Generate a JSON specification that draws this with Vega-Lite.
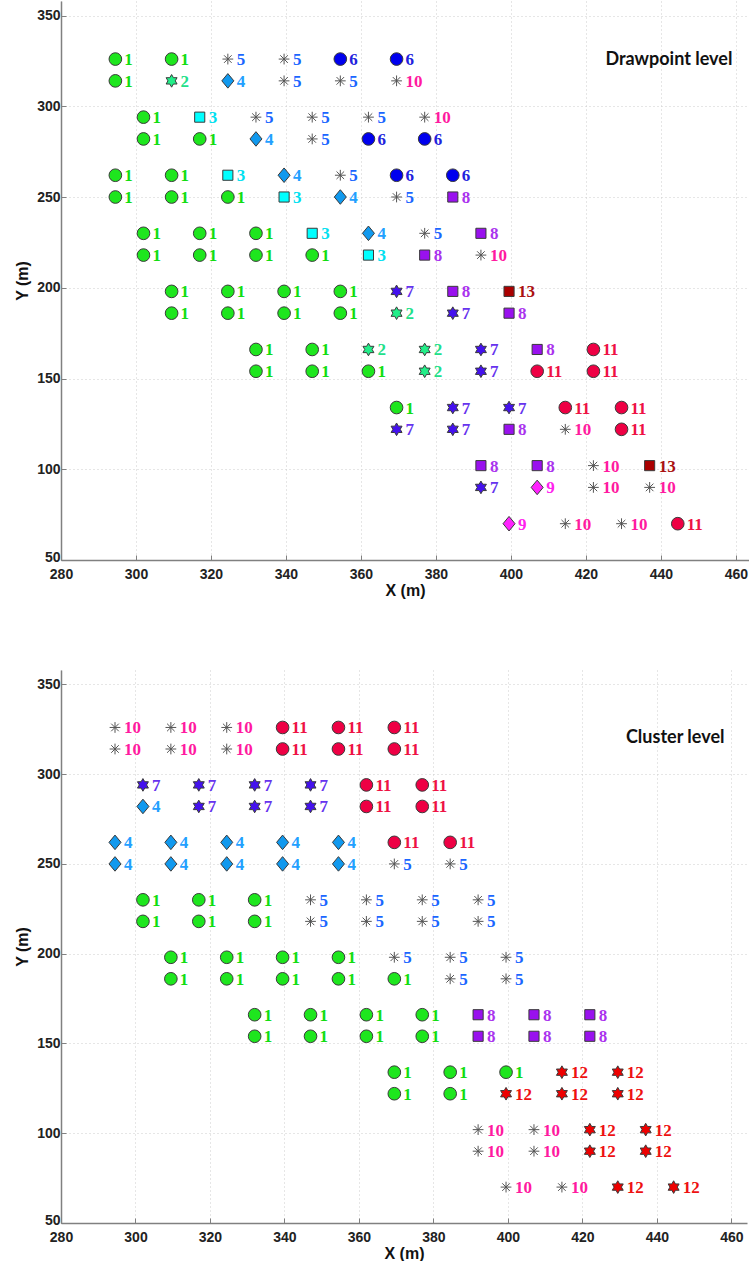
{
  "$schema": "https://vega.github.io/schema/vega-lite/v6.json",
  "padding": {"left": 14, "top": 1, "right": 0, "bottom": 0},
  "background": "white",
  "spacing": 72,
  "datasets": {
    "top": [
      {"x": 294.5, "y": 326, "c": 1}, {"x": 309.5, "y": 326, "c": 1}, {"x": 324.5, "y": 326, "c": 5}, {"x": 339.5, "y": 326, "c": 5}, {"x": 354.5, "y": 326, "c": 6}, {"x": 369.5, "y": 326, "c": 6},
      {"x": 294.5, "y": 314, "c": 1}, {"x": 309.5, "y": 314, "c": 2}, {"x": 324.5, "y": 314, "c": 4}, {"x": 339.5, "y": 314, "c": 5}, {"x": 354.5, "y": 314, "c": 5}, {"x": 369.5, "y": 314, "c": 10},
      {"x": 302, "y": 294, "c": 1}, {"x": 317, "y": 294, "c": 3}, {"x": 332, "y": 294, "c": 5}, {"x": 347, "y": 294, "c": 5}, {"x": 362, "y": 294, "c": 5}, {"x": 377, "y": 294, "c": 10},
      {"x": 302, "y": 282, "c": 1}, {"x": 317, "y": 282, "c": 1}, {"x": 332, "y": 282, "c": 4}, {"x": 347, "y": 282, "c": 5}, {"x": 362, "y": 282, "c": 6}, {"x": 377, "y": 282, "c": 6},
      {"x": 294.5, "y": 262, "c": 1}, {"x": 309.5, "y": 262, "c": 1}, {"x": 324.5, "y": 262, "c": 3}, {"x": 339.5, "y": 262, "c": 4}, {"x": 354.5, "y": 262, "c": 5}, {"x": 369.5, "y": 262, "c": 6}, {"x": 384.5, "y": 262, "c": 6},
      {"x": 294.5, "y": 250, "c": 1}, {"x": 309.5, "y": 250, "c": 1}, {"x": 324.5, "y": 250, "c": 1}, {"x": 339.5, "y": 250, "c": 3}, {"x": 354.5, "y": 250, "c": 4}, {"x": 369.5, "y": 250, "c": 5}, {"x": 384.5, "y": 250, "c": 8},
      {"x": 302, "y": 230, "c": 1}, {"x": 317, "y": 230, "c": 1}, {"x": 332, "y": 230, "c": 1}, {"x": 347, "y": 230, "c": 3}, {"x": 362, "y": 230, "c": 4}, {"x": 377, "y": 230, "c": 5}, {"x": 392, "y": 230, "c": 8},
      {"x": 302, "y": 218, "c": 1}, {"x": 317, "y": 218, "c": 1}, {"x": 332, "y": 218, "c": 1}, {"x": 347, "y": 218, "c": 1}, {"x": 362, "y": 218, "c": 3}, {"x": 377, "y": 218, "c": 8}, {"x": 392, "y": 218, "c": 10},
      {"x": 309.5, "y": 198, "c": 1}, {"x": 324.5, "y": 198, "c": 1}, {"x": 339.5, "y": 198, "c": 1}, {"x": 354.5, "y": 198, "c": 1}, {"x": 369.5, "y": 198, "c": 7}, {"x": 384.5, "y": 198, "c": 8}, {"x": 399.5, "y": 198, "c": 13},
      {"x": 309.5, "y": 186, "c": 1}, {"x": 324.5, "y": 186, "c": 1}, {"x": 339.5, "y": 186, "c": 1}, {"x": 354.5, "y": 186, "c": 1}, {"x": 369.5, "y": 186, "c": 2}, {"x": 384.5, "y": 186, "c": 7}, {"x": 399.5, "y": 186, "c": 8},
      {"x": 332, "y": 166, "c": 1}, {"x": 347, "y": 166, "c": 1}, {"x": 362, "y": 166, "c": 2}, {"x": 377, "y": 166, "c": 2}, {"x": 392, "y": 166, "c": 7}, {"x": 407, "y": 166, "c": 8}, {"x": 422, "y": 166, "c": 11},
      {"x": 332, "y": 154, "c": 1}, {"x": 347, "y": 154, "c": 1}, {"x": 362, "y": 154, "c": 1}, {"x": 377, "y": 154, "c": 2}, {"x": 392, "y": 154, "c": 7}, {"x": 407, "y": 154, "c": 11}, {"x": 422, "y": 154, "c": 11},
      {"x": 369.5, "y": 134, "c": 1}, {"x": 384.5, "y": 134, "c": 7}, {"x": 399.5, "y": 134, "c": 7}, {"x": 414.5, "y": 134, "c": 11}, {"x": 429.5, "y": 134, "c": 11},
      {"x": 369.5, "y": 122, "c": 7}, {"x": 384.5, "y": 122, "c": 7}, {"x": 399.5, "y": 122, "c": 8}, {"x": 414.5, "y": 122, "c": 10}, {"x": 429.5, "y": 122, "c": 11},
      {"x": 392, "y": 102, "c": 8}, {"x": 407, "y": 102, "c": 8}, {"x": 422, "y": 102, "c": 10}, {"x": 437, "y": 102, "c": 13},
      {"x": 392, "y": 90, "c": 7}, {"x": 407, "y": 90, "c": 9}, {"x": 422, "y": 90, "c": 10}, {"x": 437, "y": 90, "c": 10},
      {"x": 399.5, "y": 70, "c": 9}, {"x": 414.5, "y": 70, "c": 10}, {"x": 429.5, "y": 70, "c": 10}, {"x": 444.5, "y": 70, "c": 11}
    ],
    "bottom": [
      {"x": 294.5, "y": 326, "c": 10}, {"x": 309.5, "y": 326, "c": 10}, {"x": 324.5, "y": 326, "c": 10}, {"x": 339.5, "y": 326, "c": 11}, {"x": 354.5, "y": 326, "c": 11}, {"x": 369.5, "y": 326, "c": 11},
      {"x": 294.5, "y": 314, "c": 10}, {"x": 309.5, "y": 314, "c": 10}, {"x": 324.5, "y": 314, "c": 10}, {"x": 339.5, "y": 314, "c": 11}, {"x": 354.5, "y": 314, "c": 11}, {"x": 369.5, "y": 314, "c": 11},
      {"x": 302, "y": 294, "c": 7}, {"x": 317, "y": 294, "c": 7}, {"x": 332, "y": 294, "c": 7}, {"x": 347, "y": 294, "c": 7}, {"x": 362, "y": 294, "c": 11}, {"x": 377, "y": 294, "c": 11},
      {"x": 302, "y": 282, "c": 4}, {"x": 317, "y": 282, "c": 7}, {"x": 332, "y": 282, "c": 7}, {"x": 347, "y": 282, "c": 7}, {"x": 362, "y": 282, "c": 11}, {"x": 377, "y": 282, "c": 11},
      {"x": 294.5, "y": 262, "c": 4}, {"x": 309.5, "y": 262, "c": 4}, {"x": 324.5, "y": 262, "c": 4}, {"x": 339.5, "y": 262, "c": 4}, {"x": 354.5, "y": 262, "c": 4}, {"x": 369.5, "y": 262, "c": 11}, {"x": 384.5, "y": 262, "c": 11},
      {"x": 294.5, "y": 250, "c": 4}, {"x": 309.5, "y": 250, "c": 4}, {"x": 324.5, "y": 250, "c": 4}, {"x": 339.5, "y": 250, "c": 4}, {"x": 354.5, "y": 250, "c": 4}, {"x": 369.5, "y": 250, "c": 5}, {"x": 384.5, "y": 250, "c": 5},
      {"x": 302, "y": 230, "c": 1}, {"x": 317, "y": 230, "c": 1}, {"x": 332, "y": 230, "c": 1}, {"x": 347, "y": 230, "c": 5}, {"x": 362, "y": 230, "c": 5}, {"x": 377, "y": 230, "c": 5}, {"x": 392, "y": 230, "c": 5},
      {"x": 302, "y": 218, "c": 1}, {"x": 317, "y": 218, "c": 1}, {"x": 332, "y": 218, "c": 1}, {"x": 347, "y": 218, "c": 5}, {"x": 362, "y": 218, "c": 5}, {"x": 377, "y": 218, "c": 5}, {"x": 392, "y": 218, "c": 5},
      {"x": 309.5, "y": 198, "c": 1}, {"x": 324.5, "y": 198, "c": 1}, {"x": 339.5, "y": 198, "c": 1}, {"x": 354.5, "y": 198, "c": 1}, {"x": 369.5, "y": 198, "c": 5}, {"x": 384.5, "y": 198, "c": 5}, {"x": 399.5, "y": 198, "c": 5},
      {"x": 309.5, "y": 186, "c": 1}, {"x": 324.5, "y": 186, "c": 1}, {"x": 339.5, "y": 186, "c": 1}, {"x": 354.5, "y": 186, "c": 1}, {"x": 369.5, "y": 186, "c": 1}, {"x": 384.5, "y": 186, "c": 5}, {"x": 399.5, "y": 186, "c": 5},
      {"x": 332, "y": 166, "c": 1}, {"x": 347, "y": 166, "c": 1}, {"x": 362, "y": 166, "c": 1}, {"x": 377, "y": 166, "c": 1}, {"x": 392, "y": 166, "c": 8}, {"x": 407, "y": 166, "c": 8}, {"x": 422, "y": 166, "c": 8},
      {"x": 332, "y": 154, "c": 1}, {"x": 347, "y": 154, "c": 1}, {"x": 362, "y": 154, "c": 1}, {"x": 377, "y": 154, "c": 1}, {"x": 392, "y": 154, "c": 8}, {"x": 407, "y": 154, "c": 8}, {"x": 422, "y": 154, "c": 8},
      {"x": 369.5, "y": 134, "c": 1}, {"x": 384.5, "y": 134, "c": 1}, {"x": 399.5, "y": 134, "c": 1}, {"x": 414.5, "y": 134, "c": 12}, {"x": 429.5, "y": 134, "c": 12},
      {"x": 369.5, "y": 122, "c": 1}, {"x": 384.5, "y": 122, "c": 1}, {"x": 399.5, "y": 122, "c": 12}, {"x": 414.5, "y": 122, "c": 12}, {"x": 429.5, "y": 122, "c": 12},
      {"x": 392, "y": 102, "c": 10}, {"x": 407, "y": 102, "c": 10}, {"x": 422, "y": 102, "c": 12}, {"x": 437, "y": 102, "c": 12},
      {"x": 392, "y": 90, "c": 10}, {"x": 407, "y": 90, "c": 10}, {"x": 422, "y": 90, "c": 12}, {"x": 437, "y": 90, "c": 12},
      {"x": 399.5, "y": 70, "c": 10}, {"x": 414.5, "y": 70, "c": 10}, {"x": 429.5, "y": 70, "c": 12}, {"x": 444.5, "y": 70, "c": 12}
    ]
  },
  "vconcat": [
    {
      "width": 688,
      "height": 559,
      "encoding": {
        "x": {"field": "x", "type": "quantitative", "scale": {"domain": [280, 463.5], "nice": false, "zero": false}, "axis": {"values": [280, 300, 320, 340, 360, 380, 400, 420, 440, 460], "title": "X (m)"}},
        "y": {"field": "y", "type": "quantitative", "scale": {"domain": [50, 358], "nice": false, "zero": false}, "axis": {"values": [50, 100, 150, 200, 250, 300, 350], "title": "Y (m)", "labelOffset": {"condition": {"test": "datum.value == 50", "value": -3}, "value": 0}}}
      },
      "layer": [
        {
          "data": {"name": "top"},
          "mark": {"type": "point", "filled": true, "size": 160, "strokeWidth": 1, "opacity": 1},
          "encoding": {
            "shape": {"field": "c", "type": "nominal", "legend": null, "scale": {"domain": [1,2,3,4,5,6,7,8,9,10,11,12,13], "range": ["circle", "M0,-1L0.289,-0.5L0.866,-0.5L0.577,0L0.866,0.5L0.289,0.5L0,1L-0.289,0.5L-0.866,0.5L-0.577,0L-0.866,-0.5L-0.289,-0.5Z", "M-0.8,-0.8L0.8,-0.8L0.8,0.8L-0.8,0.8Z", "M0,-1.15L0.95,0L0,1.15L-0.95,0Z", "M-0.85,0L0.85,0M0,-0.85L0,0.85M-0.6,-0.6L0.6,0.6M-0.6,0.6L0.6,-0.6", "circle", "M0,-1L0.289,-0.5L0.866,-0.5L0.577,0L0.866,0.5L0.289,0.5L0,1L-0.289,0.5L-0.866,0.5L-0.577,0L-0.866,-0.5L-0.289,-0.5Z", "M-0.8,-0.8L0.8,-0.8L0.8,0.8L-0.8,0.8Z", "M0,-1.15L0.95,0L0,1.15L-0.95,0Z", "M-0.85,0L0.85,0M0,-0.85L0,0.85M-0.6,-0.6L0.6,0.6M-0.6,0.6L0.6,-0.6", "circle", "M0,-1L0.289,-0.5L0.866,-0.5L0.577,0L0.866,0.5L0.289,0.5L0,1L-0.289,0.5L-0.866,0.5L-0.577,0L-0.866,-0.5L-0.289,-0.5Z", "M-0.8,-0.8L0.8,-0.8L0.8,0.8L-0.8,0.8Z"]}},
            "fill": {"field": "c", "type": "nominal", "legend": null, "scale": {"domain": [1,2,3,4,5,6,7,8,9,10,11,12,13], "range": ["#1ee61e", "#22ee88", "#00ffff", "#1199ee", "transparent", "#0000ee", "#4411ee", "#9911ee", "#ff22ff", "transparent", "#ee0044", "#ee0000", "#aa0000"]}},
            "stroke": {"field": "c", "type": "nominal", "legend": null, "scale": {"domain": [1,2,3,4,5,6,7,8,9,10,11,12,13], "range": ["#3a3a3a", "#3a3a3a", "#3a3a3a", "#3a3a3a", "#555555", "#3a3a3a", "#3a3a3a", "#3a3a3a", "#3a3a3a", "#555555", "#3a3a3a", "#3a3a3a", "#3a3a3a"]}}
          }
        },
        {
          "data": {"name": "top"},
          "mark": {"type": "text", "align": "left", "baseline": "middle", "dx": 9, "dy": 1, "font": "Liberation Serif", "fontWeight": "bold", "fontSize": 17},
          "encoding": {
            "text": {"field": "c", "type": "nominal"},
            "color": {"field": "c", "type": "nominal", "legend": null, "scale": {"domain": [1,2,3,4,5,6,7,8,9,10,11,12,13], "range": ["#11dd11", "#22e08a", "#00e0f0", "#22a0ff", "#1a66ff", "#2222dd", "#6633ee", "#aa33ee", "#ff22ee", "#ff1aa0", "#ee1144", "#ee1111", "#aa1111"]}}
          }
        },
        {
          "data": {"values": [{"x": 425.2, "y": 325.4, "t": "Drawpoint level"}]},
          "mark": {"type": "text", "align": "left", "baseline": "middle", "font": "Lato", "fontWeight": "bold", "fontSize": 18, "color": "#111111"},
          "encoding": {"text": {"field": "t"}}
        }
      ]
    },
    {
      "width": 686,
      "height": 553,
      "encoding": {
        "x": {"field": "x", "type": "quantitative", "scale": {"domain": [280, 464.2], "nice": false, "zero": false}, "axis": {"values": [280, 300, 320, 340, 360, 380, 400, 420, 440, 460], "title": "X (m)"}},
        "y": {"field": "y", "type": "quantitative", "scale": {"domain": [50, 358], "nice": false, "zero": false}, "axis": {"values": [50, 100, 150, 200, 250, 300, 350], "title": "Y (m)", "labelOffset": {"condition": {"test": "datum.value == 50", "value": -3}, "value": 0}}}
      },
      "layer": [
        {
          "data": {"name": "bottom"},
          "mark": {"type": "point", "filled": true, "size": 160, "strokeWidth": 1, "opacity": 1},
          "encoding": {
            "shape": {"field": "c", "type": "nominal", "legend": null, "scale": {"domain": [1,2,3,4,5,6,7,8,9,10,11,12,13], "range": ["circle", "M0,-1L0.289,-0.5L0.866,-0.5L0.577,0L0.866,0.5L0.289,0.5L0,1L-0.289,0.5L-0.866,0.5L-0.577,0L-0.866,-0.5L-0.289,-0.5Z", "M-0.8,-0.8L0.8,-0.8L0.8,0.8L-0.8,0.8Z", "M0,-1.15L0.95,0L0,1.15L-0.95,0Z", "M-0.85,0L0.85,0M0,-0.85L0,0.85M-0.6,-0.6L0.6,0.6M-0.6,0.6L0.6,-0.6", "circle", "M0,-1L0.289,-0.5L0.866,-0.5L0.577,0L0.866,0.5L0.289,0.5L0,1L-0.289,0.5L-0.866,0.5L-0.577,0L-0.866,-0.5L-0.289,-0.5Z", "M-0.8,-0.8L0.8,-0.8L0.8,0.8L-0.8,0.8Z", "M0,-1.15L0.95,0L0,1.15L-0.95,0Z", "M-0.85,0L0.85,0M0,-0.85L0,0.85M-0.6,-0.6L0.6,0.6M-0.6,0.6L0.6,-0.6", "circle", "M0,-1L0.289,-0.5L0.866,-0.5L0.577,0L0.866,0.5L0.289,0.5L0,1L-0.289,0.5L-0.866,0.5L-0.577,0L-0.866,-0.5L-0.289,-0.5Z", "M-0.8,-0.8L0.8,-0.8L0.8,0.8L-0.8,0.8Z"]}},
            "fill": {"field": "c", "type": "nominal", "legend": null, "scale": {"domain": [1,2,3,4,5,6,7,8,9,10,11,12,13], "range": ["#1ee61e", "#22ee88", "#00ffff", "#1199ee", "transparent", "#0000ee", "#4411ee", "#9911ee", "#ff22ff", "transparent", "#ee0044", "#ee0000", "#aa0000"]}},
            "stroke": {"field": "c", "type": "nominal", "legend": null, "scale": {"domain": [1,2,3,4,5,6,7,8,9,10,11,12,13], "range": ["#3a3a3a", "#3a3a3a", "#3a3a3a", "#3a3a3a", "#555555", "#3a3a3a", "#3a3a3a", "#3a3a3a", "#3a3a3a", "#555555", "#3a3a3a", "#3a3a3a", "#3a3a3a"]}}
          }
        },
        {
          "data": {"name": "bottom"},
          "mark": {"type": "text", "align": "left", "baseline": "middle", "dx": 9, "dy": 1, "font": "Liberation Serif", "fontWeight": "bold", "fontSize": 17},
          "encoding": {
            "text": {"field": "c", "type": "nominal"},
            "color": {"field": "c", "type": "nominal", "legend": null, "scale": {"domain": [1,2,3,4,5,6,7,8,9,10,11,12,13], "range": ["#11dd11", "#22e08a", "#00e0f0", "#22a0ff", "#1a66ff", "#2222dd", "#6633ee", "#aa33ee", "#ff22ee", "#ff1aa0", "#ee1144", "#ee1111", "#aa1111"]}}
          }
        },
        {
          "data": {"values": [{"x": 431.7, "y": 320.3, "t": "Cluster level"}]},
          "mark": {"type": "text", "align": "left", "baseline": "middle", "font": "Lato", "fontWeight": "bold", "fontSize": 18, "color": "#111111"},
          "encoding": {"text": {"field": "t"}}
        }
      ]
    }
  ],
  "config": {
    "view": {"stroke": null},
    "axis": {
      "labelFont": "Liberation Sans", "labelFontWeight": "bold", "labelFontSize": 14, "labelColor": "#222222", "labelFlush": false,
      "titleFont": "Liberation Sans", "titleFontWeight": "bold", "titleFontSize": 16, "titleColor": "#111111",
      "domainColor": "#808080", "domainWidth": 1.5, "tickColor": "#808080", "tickSize": -5, "labelPadding": 6,
      "gridColor": "#cccccc", "gridDash": [1, 3], "gridWidth": 1
    },
    "axisY": {"titlePadding": 6},
    "axisX": {"titlePadding": 1, "labelPadding": 12}
  }
}
